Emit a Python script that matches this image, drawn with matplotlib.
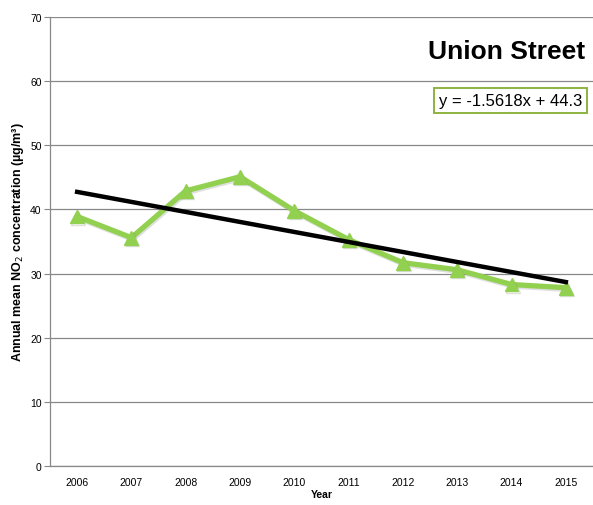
import numpy as np
import matplotlib
matplotlib.use("Agg")
import matplotlib.pyplot as plt
import matplotlib.patheffects as pe

plt.rcParams['font.family'] = ['Liberation Sans', 'DejaVu Sans']

# Annual mean NO2 at Union Street
years = ["2006", "2007", "2008", "2009", "2010", "2011", "2012", "2013", "2014", "2015"]
no2 = [38.9, 35.6, 42.9, 45.1, 39.8, 35.3, 31.7, 30.6, 28.3, 27.8]

# Linear trend as printed on the chart
slope = -1.5618
intercept = 44.3

green = "#92D050"

fig = plt.figure(figsize=(5.93, 5.06), dpi=100)
ax = fig.add_axes([0.0843, 0.077, 0.9157, 0.8874])

x = np.arange(len(years))
ax.plot(x, no2, color=green, lw=3.8, marker="^", markersize=10,
        markerfacecolor=green, markeredgecolor=green, zorder=3,
        path_effects=[pe.SimpleLineShadow(offset=(0.8, -1.2), shadow_color="gray", alpha=0.25), pe.Normal()])

trend = slope * (x + 1) + intercept
ax.plot(x, trend, color="black", lw=3.2, zorder=4)

ax.set_xlim(-0.5, len(years) - 0.5)
ax.set_ylim(0, 70)
ax.set_yticks(range(0, 71, 10))
ax.set_xticks(x)
ax.set_xticklabels(years)
ax.tick_params(axis="x", length=0, pad=8, labelsize=7.5)
ax.tick_params(axis="y", length=4, color="#888888", labelsize=7.5, pad=2)

ax.grid(axis="y", color="#888888", lw=0.9)
ax.set_axisbelow(True)
for s in ["top", "right"]:
    ax.spines[s].set_visible(False)
for s in ["left", "bottom"]:
    ax.spines[s].set_color("#888888")
    ax.spines[s].set_linewidth(0.9)

ax.set_xlabel("Year", fontsize=7.5, fontweight="bold", labelpad=1)
ax.set_ylabel("Annual mean NO$_2$ concentration (µg/m³)", fontsize=9, fontweight="bold", labelpad=3)

ax.text(0.985, 0.925, "Union Street", transform=ax.transAxes, ha="right", va="center",
        fontsize=19, fontweight="bold")
ax.text(0.98, 0.815, "y = -1.5618x + 44.3", transform=ax.transAxes, ha="right", va="center",
        fontsize=12, bbox=dict(boxstyle="square,pad=0.3", fc="white", ec="#8DB33F", lw=1.4))

fig.savefig("out.png", dpi=100)
